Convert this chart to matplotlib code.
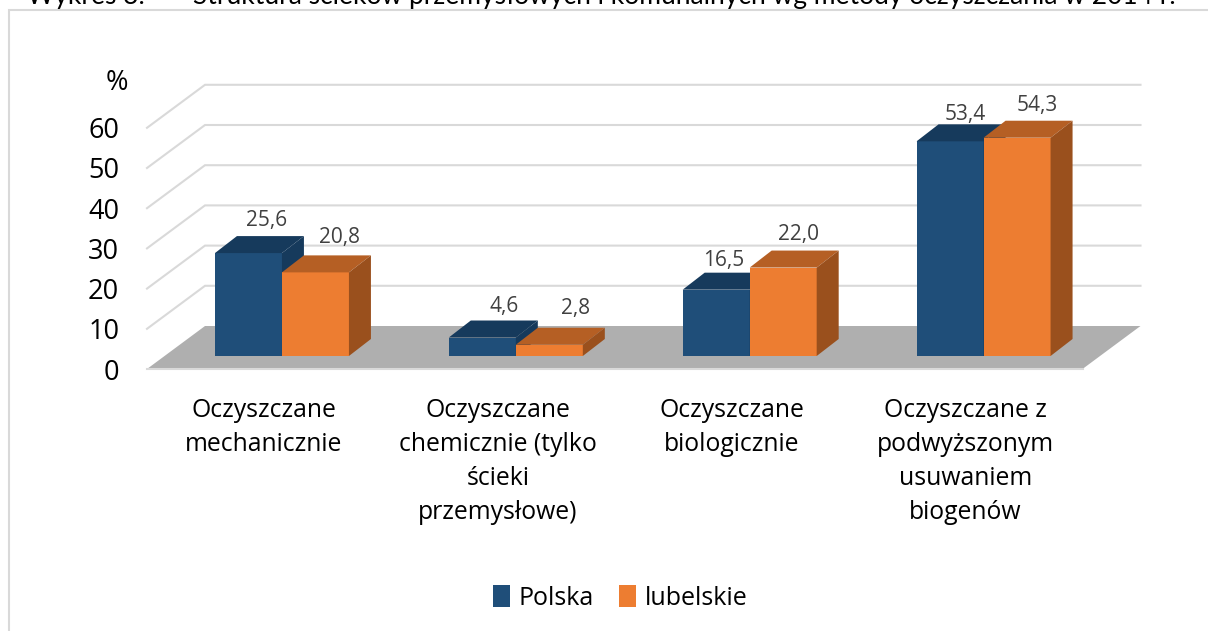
import matplotlib
matplotlib.use("Agg")
import matplotlib.pyplot as plt
from matplotlib.patches import Polygon, Rectangle

categories = ["Oczyszczane\nmechanicznie",
              "Oczyszczane\nchemicznie (tylko\nścieki\nprzemysłowe)",
              "Oczyszczane\nbiologicznie",
              "Oczyszczane z\npodwyższonym\nusuwaniem\nbiogenów"]
polska = [25.6, 4.6, 16.5, 53.4]
lubelskie = [20.8, 2.8, 22.0, 54.3]
polska_labels = ["25,6", "4,6", "16,5", "53,4"]
lubelskie_labels = ["20,8", "2,8", "22,0", "54,3"]
yticks = [0, 10, 20, 30, 40, 50, 60]

# hand placed data labels, pixels from the bar's top front edge centre
polska_off = [(18.5, 33), (21.5, 31), (7, 29), (15, 27)]
lubelskie_off = [(24, 35), (26, 36), (15, 33), (20, 32)]

W, H = 1208, 631
plt.rcParams['font.family'] = ['Open Sans', 'DejaVu Sans']

fig = plt.figure(figsize=(W / 100, H / 100), dpi=100)

# border of the pasted chart and the clipped caption above it
bg = fig.add_axes([0, 0, 1, 1])
bg.set_xlim(0, W)
bg.set_ylim(H, 0)
bg.axis("off")
bg.add_patch(Rectangle((8.5, 10), W + 20, H + 20, fc="white", ec="#d9d9d9", lw=1.5))
bg.text(27, 4, "Wykres 3.", fontsize=19, family="Lato", va="baseline", color="black", clip_on=False)
bg.text(193, 4, "Struktura ścieków przemysłowych i komunalnych wg metody oczyszczania w 2014 r.",
        fontsize=19, family="Lato", va="baseline", color="black", clip_on=False)

# main axes: front edge of the floor, one x unit per category
x0, x1, y0 = 147, 1082.5, 369
ppu = 4.02
ymax = 60
ax = fig.add_axes([x0 / W, 1 - y0 / H, (x1 - x0) / W, ppu * ymax / H])
ax.set_xlim(0, 4)
ax.set_ylim(0, ymax)
ax.patch.set_alpha(0)
for s in ax.spines.values():
    s.set_visible(False)
ax.set_xticks([])
ax.set_yticks(yticks)
ax.tick_params(axis="y", length=0, labelsize=19.5, pad=20)

ppx = (x1 - x0) / 4
depth_x = 58 / ppx
depth_y = 43 / ppu
bar_w = 67 / ppx
bar_dx = 22 / ppx
bar_dy = 17 / ppu
base = 13 / ppu
shift = 18 / ppx
grid_c = "#d9d9d9"

# walls: floor and gridlines
ax.add_patch(Polygon([(0, 0), (4, 0), (4 + depth_x, depth_y), (depth_x, depth_y)],
                     fc="#afafaf", ec="none", clip_on=False, zorder=1))
for t in yticks[1:]:
    ax.plot([0, depth_x, 4 + depth_x], [t, t + depth_y, t + depth_y],
            color=grid_c, lw=1.5, clip_on=False, zorder=1, solid_joinstyle="miter")
ax.plot([0, 4], [0, 0], color=grid_c, lw=1.5, clip_on=False, zorder=1)
ax.text(-30 / ppx, 71.2, "%", fontsize=19.5, ha="center", va="center", clip_on=False)


def draw_bar(left, value, face, top, side, z):
    ax.bar(left, value, bar_w, bottom=base, align="edge", color=face, zorder=z, clip_on=False)
    right = left + bar_w
    h = base + value
    ax.add_patch(Polygon([(left, h), (right, h), (right + bar_dx, h + bar_dy), (left + bar_dx, h + bar_dy)],
                         fc=top, ec="none", zorder=z, clip_on=False))
    ax.add_patch(Polygon([(right, base), (right + bar_dx, base + bar_dy),
                          (right + bar_dx, h + bar_dy), (right, h)],
                         fc=side, ec="none", zorder=z, clip_on=False))


for i in range(len(categories)):
    mid = i + 0.5 + shift
    draw_bar(mid - bar_w, polska[i], "#1f4e79", "#163a5c", "#163a5c", 3)
    draw_bar(mid, lubelskie[i], "#ed7d31", "#b55f24", "#9a501d", 4)
    ax.text(mid - bar_w / 2 + polska_off[i][0] / ppx, base + polska[i] + polska_off[i][1] / ppu,
            polska_labels[i], fontsize=15, color="#404040", ha="center", va="center", zorder=6, clip_on=False)
    ax.text(mid + bar_w / 2 + lubelskie_off[i][0] / ppx, base + lubelskie[i] + lubelskie_off[i][1] / ppu,
            lubelskie_labels[i], fontsize=15, color="#404040", ha="center", va="center", zorder=6, clip_on=False)
    ax.text(i + 0.5, -7.2, categories[i], fontsize=17.8, ha="center", va="top",
            linespacing=1.47, clip_on=False)

handles = [Rectangle((0, 0), 1, 1, fc="#1f4e79"), Rectangle((0, 0), 1, 1, fc="#ed7d31")]
fig.legend(handles, ["Polska", "lubelskie"], loc="center", bbox_to_anchor=(620.5 / W, 1 - 598 / H),
           ncol=2, frameon=False, fontsize=18, handlelength=0.68, handleheight=0.95,
           handletextpad=0.35, columnspacing=1.0, borderpad=0)

fig.savefig("out.png", dpi=100)
